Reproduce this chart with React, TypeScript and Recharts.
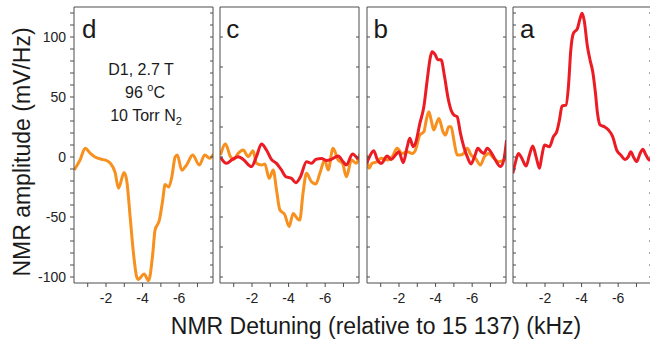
import { LineChart, Line, XAxis, YAxis } from 'recharts';

const ORANGE = '#f7901e';
const RED = '#ec1c24';
const FRAME = '#4d4d4d';
const FONT = '"Liberation Sans", Arial, sans-serif';

// detuning (kHz) and amplitude (mV/Hz)
const dX = [-0.26, -0.58, -0.86, -1.13, -1.4, -1.77, -1.95, -2.22, -2.5, -2.68, -2.99, -3.14, -3.32, -3.5, -3.68, -3.77, -4.08, -4.33, -4.56, -4.68, -4.92, -5.1, -5.23, -5.43, -5.6, -5.78, -5.9, -6.14, -6.4, -6.74, -7.1, -7.4, -7.67, -7.88];
const dOrange = [-10.8, -2.5, 7.2, 3.3, 0, -2, -2.5, -5, -13, -26, -13, -20.5, -50, -80, -100, -102, -97.5, -103, -80, -61, -52.5, -36, -23, -25, -16.4, 0, 1.7, -11, -6.7, 1.7, -6.7, 1.7, -1, 2.5];

const cRedX = [-0.28, -0.6, -0.93, -1.24, -1.52, -1.97, -2.24, -2.52, -2.79, -3.06, -3.34, -3.61, -3.85, -4.16, -4.39, -4.65, -4.98, -5.25, -5.49, -5.8, -6.07, -6.34, -6.71, -6.98, -7.16, -7.49, -7.8];
const cRed = [-0.3, -5.3, -2, 0.3, -2, -8, 0.3, 10.8, 5.8, -2, -5.3, -10.8, -16.4, -17.8, -21.4, -16.4, -3.9, -5.3, -2, -1.2, -3, -2, 0.8, -3.9, -6.7, 2.5, -2];
const cOrangeX = [-0.28, -0.55, -0.82, -1.0, -1.24, -1.52, -1.79, -2.06, -2.24, -2.52, -2.7, -2.94, -3.16, -3.34, -3.52, -3.79, -4.03, -4.25, -4.46, -4.61, -4.79, -4.98, -5.25, -5.49, -5.71, -5.98, -6.16, -6.43, -6.71, -6.95, -7.16, -7.44, -7.71, -7.89];
const cOrange = [1.7, 10.8, 0.3, -2, 3, 5.8, 0.3, 5.3, -5.3, -6.7, -5.8, -17.8, -10.8, -27.5, -44, -48, -58, -47, -51, -52.5, -30, -13.6, -20.6, -22.5, -13.6, -2.5, -10.8, 7.2, -2.5, -5.3, -16.4, -2.5, -5.3, 2.5];

const bRedX = [-0.22, -0.35, -0.62, -0.81, -1.03, -1.35, -1.57, -1.81, -1.99, -2.23, -2.45, -2.59, -2.77, -2.9, -3.14, -3.36, -3.54, -3.72, -3.81, -3.99, -4.12, -4.3, -4.49, -4.67, -4.85, -5.0, -5.18, -5.36, -5.54, -5.73, -5.94, -6.13, -6.31, -6.49, -6.64, -6.82, -7.09, -7.27, -7.55, -7.73, -7.88];
const bRed = [-5.3, -1, 5.3, -2, -5.3, 0.8, -2, 1.7, 4.4, -4.7, 8.6, 15.6, 8.6, 11.4, 28, 42, 64, 83.6, 87.8, 85, 81, 81, 67, 50, 39, 35, 33.6, 19.7, 8.6, 0.3, -5.8, 0.3, 7.2, 4.4, 3, 7.2, 2.5, -2.5, -8, -2.5, 14];
const bOrangeX = [-0.22, -0.35, -0.53, -0.81, -1.03, -1.35, -1.63, -1.9, -2.17, -2.45, -2.72, -2.9, -3.14, -3.36, -3.49, -3.63, -3.76, -3.9, -4.05, -4.18, -4.41, -4.54, -4.72, -4.85, -5.0, -5.18, -5.36, -5.54, -5.73, -5.94, -6.18, -6.45, -6.67, -6.9, -7.18, -7.45, -7.73, -7.91];
const bOrange = [1.7, -9.4, -5.3, -3.9, -1, -2.5, 0.3, 7.2, 3, 4.4, 3, 5.8, 18.3, 21, 30.8, 37.8, 30.8, 22.5, 28, 32, 21, 18.3, 25.3, 25.3, 14, 1.7, 1.7, 3, 7.2, 1.7, -1, -6.7, 0.3, 3, -1, -3.9, -2.5, -1];

const aX = [-0.24, -0.37, -0.55, -0.73, -0.97, -1.15, -1.33, -1.51, -1.7, -1.82, -1.97, -2.24, -2.46, -2.64, -2.79, -2.93, -3.15, -3.28, -3.41, -3.55, -3.77, -3.92, -4.03, -4.14, -4.32, -4.46, -4.61, -4.76, -4.87, -5.01, -5.23, -5.47, -5.7, -5.92, -6.14, -6.38, -6.56, -6.69, -6.83, -7.01, -7.2, -7.34, -7.52, -7.7, -7.85];
const aRed = [-13.6, -5.3, 3, -1, -7.5, 1.7, 9.2, 0.3, -9.4, 0.3, 10, 8.6, 17, 21, 30.8, 42.5, 43.3, 58.6, 89, 103, 107, 115.6, 119.7, 114, 92, 81, 71, 53, 36.4, 26.7, 25.3, 22.5, 17, 5.8, 1.7, -2, 0.3, 4.4, 0.3, -3.9, 3, 6.4, 1.7, -2.5, -1];

const xTicks = [-7, -6, -5, -4, -3, -2, -1];
const yLabels = [-100, -50, 0, 50, 100];
const X_DOMAIN = [-7.85, -0.25];
const Y_DOMAIN = [-105, 125];

const zip = (xs: number[], ys: number[]) => xs.map((x, i) => ({ x, y: ys[i] }));

const range = (lo: number, hi: number, step: number) => {
  const out: number[] = [];
  for (let v = lo; v <= hi; v += step) out.push(v);
  return out;
};

type Series = { xs: number[]; ys: number[]; color: string };

const PLOT_W = 139;
const PLOT_TOP = 7;
const PLOT_BOTTOM = 283;

const Panel = ({ left, series, yStep, first }: { left: number; series: Series[]; yStep: number; first?: boolean }) => {
  const yTicks = range(-100, 120, yStep);
  return (
    <div style={{ position: 'absolute', left: left - 74, top: 0 }}>
      <LineChart
        width={74 + PLOT_W + 12}
        height={341}
        margin={{ top: PLOT_TOP, right: 12, bottom: 341 - PLOT_BOTTOM - 30, left: first ? 74 - 40 : 74 }}
      >
        <XAxis
          xAxisId="bottom"
          type="number"
          dataKey="x"
          domain={X_DOMAIN}
          allowDataOverflow
          reversed
          ticks={xTicks}
          interval={0}
          height={30}
          stroke={FRAME}
          tickSize={4}
          tickMargin={6}
          tick={{ fill: '#222', fontSize: 14 }}
          tickFormatter={(v: number) => (v % 2 === 0 ? String(v) : '')}
        />
        <XAxis
          xAxisId="top"
          orientation="top"
          mirror
          type="number"
          domain={X_DOMAIN}
          allowDataOverflow
          reversed
          ticks={xTicks}
          interval={0}
          height={1}
          stroke={FRAME}
          tickSize={3}
          tickFormatter={() => ''}
        />
        <YAxis
          yAxisId="left"
          type="number"
          domain={Y_DOMAIN}
          allowDataOverflow
          ticks={first ? range(-100, 120, 10) : yTicks}
          interval={0}
          mirror={!first}
          width={first ? 40 : 1}
          stroke={FRAME}
          tickSize={first ? 4 : 3}
          tickMargin={4}
          tick={{ fill: '#222', fontSize: 14 }}
          tickFormatter={(v: number) => (first && yLabels.includes(v) ? String(v) : '')}
        />
        <YAxis
          yAxisId="right"
          orientation="right"
          mirror
          type="number"
          domain={Y_DOMAIN}
          allowDataOverflow
          ticks={yTicks}
          interval={0}
          width={1}
          stroke={FRAME}
          tickSize={3}
          tickFormatter={() => ''}
        />
        {series.map((s, i) => (
          <Line
            key={i}
            xAxisId="bottom"
            yAxisId="left"
            data={zip(s.xs, s.ys)}
            dataKey="y"
            type="monotone"
            stroke={s.color}
            strokeWidth={3}
            dot={false}
            isAnimationActive={false}
          />
        ))}
      </LineChart>
    </div>
  );
};

const panelLeft = [74, 220.3, 366.6, 513];

export default function App() {
  return (
    <div
      style={{
        position: 'absolute',
        left: 0,
        top: 0,
        width: 650,
        height: 341,
        overflow: 'hidden',
        background: '#fff',
        fontFamily: FONT,
      }}
    >
      <Panel left={panelLeft[0]} first yStep={10} series={[{ xs: dX, ys: dOrange, color: ORANGE }]} />
      <Panel
        left={panelLeft[1]}
        yStep={25}
        series={[
          { xs: cOrangeX, ys: cOrange, color: ORANGE },
          { xs: cRedX, ys: cRed, color: RED },
        ]}
      />
      <Panel
        left={panelLeft[2]}
        yStep={25}
        series={[
          { xs: bOrangeX, ys: bOrange, color: ORANGE },
          { xs: bRedX, ys: bRed, color: RED },
        ]}
      />
      <Panel left={panelLeft[3]} yStep={10} series={[{ xs: aX, ys: aRed, color: RED }]} />

      <svg width={650} height={341} style={{ position: 'absolute', left: 0, top: 0, pointerEvents: 'none' }}>
        <g fill="#1a1a1a" fontSize={26}>
          <text x={panelLeft[0] + 8} y={38}>d</text>
          <text x={panelLeft[1] + 6} y={38}>c</text>
          <text x={panelLeft[2] + 7} y={38}>b</text>
          <text x={panelLeft[3] + 7} y={38}>a</text>
        </g>
        <g fill="#1a1a1a" fontSize={16} textAnchor="middle">
          <text x={141} y={75}>D1, 2.7 T</text>
          <text x={145} y={98}>
            96 <tspan fontSize={11} dy={-7}>o</tspan>
            <tspan dy={7}>C</tspan>
          </text>
          <text x={146} y={121}>
            10 Torr N<tspan fontSize={11} dy={4}>2</tspan>
          </text>
        </g>
        <text x={376} y={334} textAnchor="middle" fontSize={23} fill="#1a1a1a">
          NMR Detuning (relative to 15 137) (kHz)
        </text>
        <text
          transform="translate(30,152) rotate(-90)"
          textAnchor="middle"
          fontSize={23}
          fill="#1a1a1a"
        >
          NMR amplitude (mV/Hz)
        </text>
      </svg>
    </div>
  );
}
